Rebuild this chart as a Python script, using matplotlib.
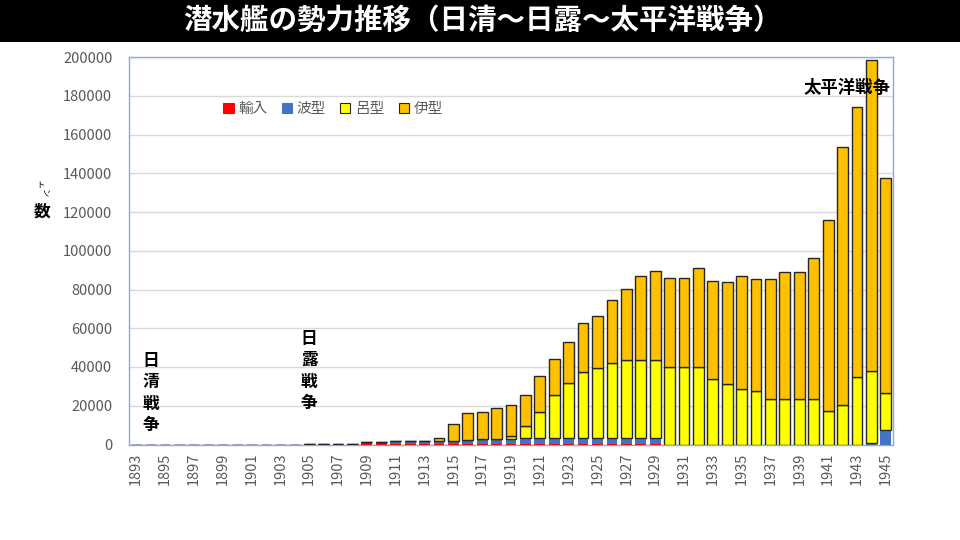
import matplotlib
matplotlib.use("Agg")
import matplotlib.pyplot as plt
from matplotlib.patches import Rectangle, Patch
import numpy as np

plt.rcParams['font.family'] = ['Noto Sans CJK JP', 'DejaVu Sans']

# categories
years = list(range(1893, 1946))

# tonnage by type (1893 .. 1945)
import_t = [0] * 12 + [500, 500, 500, 500, 1100, 1100] + [400] * 19 + [0] * 16
ha_type = ([0] * 18
           + [1400, 1500, 1500, 1500, 1200, 1900, 2300, 2300, 2300]
           + [2800] * 10
           + [0] * 14 + [800, 7500])
ro_type = ([0] * 26
           + [1700, 6200, 13800, 22400, 28400, 34300, 36300, 38900, 40300, 40300, 40300,
              40200, 40200, 40200, 33700, 31300, 28700, 27500, 23400, 23400, 23400, 23400,
              17100, 20400, 34900, 37000, 19000])
i_type = ([0] * 21
          + [1400, 8800, 14100, 14100, 16200, 16000, 16300, 18400, 18600, 21200, 25100,
             26900, 32700, 37000, 43700, 46000, 45800, 45800, 51000, 50900, 52700, 58400,
             58000, 61800, 65400, 65400, 72800, 98900, 133200, 139400, 160400, 111000])

series = [
    ("輸入", import_t, "#FF0000", "none"),
    ("波型", ha_type, "#4472C4", "none"),
    ("呂型", ro_type, "#FFFF00", "#262626"),
    ("伊型", i_type, "#FFC000", "#262626"),
]

fig = plt.figure(figsize=(9.6, 5.4), dpi=100)
ax = fig.add_axes([129 / 960, 1 - 444.5 / 540, 764 / 960, 387.5 / 540])

x = np.arange(len(years))
bottom = np.zeros(len(years))
handles = []
for name, vals, color, edge in series:
    vals = np.array(vals, dtype=float)
    ax.bar(x, vals, width=0.75, bottom=bottom, color=color,
           edgecolor=edge, linewidth=1.0, zorder=3)
    bottom += vals
    handles.append(Patch(facecolor=color,
                         edgecolor=edge if edge != "none" else color,
                         linewidth=0.8, label=name))

ax.set_xlim(-0.5, len(years) - 0.5)
ax.set_ylim(0, 200000)
ax.set_yticks(np.arange(0, 200001, 20000))
ax.yaxis.grid(True, color="#D9D9D9", linewidth=1, zorder=0)
ax.set_axisbelow(True)
ax.set_xticks(x[::2])
ax.set_xticklabels([str(y) for y in years[::2]], rotation=90)
ax.tick_params(axis="both", length=0, labelsize=10.5, colors="#595959")
ax.tick_params(axis="y", pad=12)
ax.tick_params(axis="x", pad=6)
for s in ax.spines.values():
    s.set_color("#8EA9DB")
    s.set_linewidth(1)

ax.legend(handles=handles, loc="center", bbox_to_anchor=(0.267, 0.866),
          ncol=4, frameon=False, fontsize=10.5, labelcolor="#595959",
          handlelength=0.7, handleheight=0.7, handletextpad=0.3,
          columnspacing=1.0)

# war annotations
ax.text(1, 26600, "日\n清\n戦\n争", ha="center", va="center",
        fontsize=12, fontweight="bold", linespacing=1.25, zorder=5)
ax.text(12, 38000, "日\n露\n戦\n争", ha="center", va="center",
        fontsize=12, fontweight="bold", linespacing=1.25, zorder=5)
ax.text(49.3, 184200, "太平洋戦争", ha="center", va="center",
        fontsize=12.5, fontweight="bold", zorder=5)

# y label (small vertical "トン" above "数")
fig.text(40 / 960, 1 - 186 / 540, "ト", ha="center", va="center",
         fontsize=6)
fig.text(44 / 960, 1 - 193 / 540, "ン", ha="center", va="center",
         fontsize=6, rotation=-90)
fig.text(42 / 960, 1 - 212 / 540, "数", ha="center", va="center",
         fontsize=12, fontweight="bold")

# title band
fig.patches.append(Rectangle((0, 1 - 42 / 540), 1, 42 / 540,
                             transform=fig.transFigure, facecolor="black",
                             edgecolor="none", zorder=0))
fig.text(482 / 960, 1 - 21 / 540, "潜水艦の勢力推移（日清～日露～太平洋戦争）",
         ha="center", va="center", color="white", fontsize=20.5,
         fontweight="bold")

fig.savefig("out.png", dpi=100, facecolor="white")
